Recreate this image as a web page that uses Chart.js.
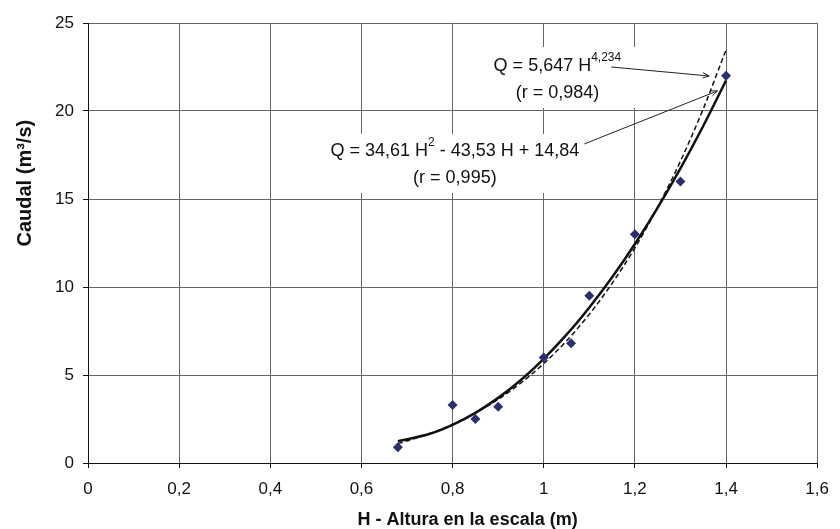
<!DOCTYPE html>
<html>
<head>
<meta charset="utf-8">
<script src="https://cdn.jsdelivr.net/npm/chart.js@4.4.1/dist/chart.umd.min.js"></script>
<style>
body{margin:0;background:#fff;}
#wrap{width:840px;height:529px;}
</style>
</head>
<body>
<div id="wrap"><canvas id="chart" width="840" height="529"></canvas></div>
<script>
// measured points
const obsH=[0.68,0.8,0.85,0.9,1.0,1.06,1.1,1.2,1.3,1.4];
const obsQ=[0.9,3.3,2.5,3.2,6.0,6.8,9.5,13.0,16.0,22.0];

// fitted curves
const curveH=[0.68,0.75,0.8,0.85,0.9,0.95,1.0,1.05,1.1,1.15,1.2,1.25,1.3,1.35,1.4];
const quadQ=[1.24,1.66,2.17,2.85,3.70,4.72,5.92,7.29,8.84,10.55,12.44,14.51,16.74,19.15,21.73];
const powQ=[1.10,1.67,2.20,2.84,3.62,4.55,5.65,6.94,8.45,10.21,12.22,14.53,17.15,20.12,23.47];

const xTicks=[0,0.2,0.4,0.6,0.8,1.0,1.2,1.4,1.6];
const yTicks=[0,5,10,15,20,25];

const xTitle='H - Altura en la escala (m)';
const yTitle='Caudal (m³/s)';

const FONT='"Liberation Sans", Arial, sans-serif';
const toPts=(xs,ys)=>xs.map((x,i)=>({x:x,y:ys[i]}));
const fmt=v=>String(Math.round(v*10)/10).replace('.',',');

// label boxes: [x, y] in data units
const labels=[
{
box:[0.881,23.64,1.210,20.17],
lines:[{y:22.56,parts:[['Q = 5,647 H',false],['4,234',true]]},{y:21.02,parts:[['(r = 0,984)',false]]}],
cx:1.03,
arrow:[1.148,22.5,1.363,21.99]
},
{
box:[0.513,18.69,1.10,15.34],
lines:[{y:17.73,parts:[['Q = 34,61 H',false],['2',true],[' - 43,53 H + 14,84',false]]},{y:16.19,parts:[['(r = 0,995)',false]]}],
cx:0.805,
arrow:[1.089,18.13,1.381,21.14]
}
];

const notes={
id:'notes',
beforeDatasetsDraw(chart){
const ctx=chart.ctx, xs=chart.scales.x, ys=chart.scales.y;
ctx.save();
labels.forEach(l=>{
const x0=xs.getPixelForValue(l.box[0]), y0=ys.getPixelForValue(l.box[1]);
const x1=xs.getPixelForValue(l.box[2]), y1=ys.getPixelForValue(l.box[3]);
ctx.fillStyle='#fff';
ctx.fillRect(x0,y0,x1-x0,y1-y0);
ctx.fillStyle='#111';
ctx.textBaseline='middle';
ctx.textAlign='left';
l.lines.forEach(ln=>{
let w=0;
ln.parts.forEach(p=>{
ctx.font=(p[1]?'12px ':'18px ')+FONT;
w+=ctx.measureText(p[0]).width;
});
let px=xs.getPixelForValue(l.cx)-w/2;
const py=ys.getPixelForValue(ln.y);
ln.parts.forEach(p=>{
ctx.font=(p[1]?'12px ':'18px ')+FONT;
ctx.fillText(p[0],px,p[1]?py-8:py);
px+=ctx.measureText(p[0]).width;
});
});
});
ctx.restore();
},
afterDatasetsDraw(chart){
const ctx=chart.ctx, xs=chart.scales.x, ys=chart.scales.y;
ctx.save();
ctx.strokeStyle='#222';
ctx.lineWidth=1;
labels.forEach(l=>{
const ax=xs.getPixelForValue(l.arrow[0]), ay=ys.getPixelForValue(l.arrow[1]);
const bx=xs.getPixelForValue(l.arrow[2]), by=ys.getPixelForValue(l.arrow[3]);
const a=Math.atan2(by-ay,bx-ax);
ctx.beginPath();
ctx.moveTo(ax,ay);
ctx.lineTo(bx,by);
ctx.moveTo(bx-7*Math.cos(a-0.4),by-7*Math.sin(a-0.4));
ctx.lineTo(bx,by);
ctx.lineTo(bx-7*Math.cos(a+0.4),by-7*Math.sin(a+0.4));
ctx.stroke();
});
ctx.restore();
},
afterDraw(chart){
// axis titles sit a little off centre in the original
const ctx=chart.ctx, xs=chart.scales.x, ys=chart.scales.y;
ctx.save();
ctx.fillStyle='#111';
ctx.textAlign='center';
ctx.textBaseline='middle';
ctx.font='bold 18px '+FONT;
ctx.fillText(xTitle,xs.getPixelForValue(0.833),chart.height-9);
ctx.translate(25,ys.getPixelForValue(15.9));
ctx.rotate(-Math.PI/2);
ctx.font='bold 20px '+FONT;
ctx.fillText(yTitle,0,0);
ctx.restore();
}
};

new Chart(document.getElementById('chart'),{
type:'scatter',
data:{
datasets:[
{
label:'Medidas',
data:toPts(obsH,obsQ),
pointStyle:'rectRot',
pointRadius:5,
backgroundColor:'#2b2f6e',
borderColor:'#2b2f6e',
borderWidth:0
},
{
label:'Potencial',
data:toPts(curveH,powQ),
showLine:true,
pointRadius:0,
borderColor:'#111',
borderWidth:1.5,
borderDash:[5,3],
cubicInterpolationMode:'monotone'
},
{
label:'Cuadratica',
data:toPts(curveH,quadQ),
showLine:true,
pointRadius:0,
borderColor:'#111',
borderWidth:2.5,
cubicInterpolationMode:'monotone'
}
]
},
options:{
responsive:false,
devicePixelRatio:1,
animation:false,
layout:{padding:{top:23,right:22,left:0,bottom:0}},
plugins:{legend:{display:false},tooltip:{enabled:false}},
scales:{
x:{
type:'linear',min:0,max:1.6,
afterBuildTicks:s=>{s.ticks=xTicks.map(v=>({value:v}));},
afterFit:s=>{s.height=66;},
ticks:{callback:fmt,color:'#111',font:{family:FONT,size:17},padding:11,maxRotation:0},
grid:{color:'#666',lineWidth:1,tickLength:5,tickColor:'#111'},
border:{color:'#111',width:1}
},
y:{
type:'linear',min:0,max:25,
afterBuildTicks:s=>{s.ticks=yTicks.map(v=>({value:v}));},
afterFit:s=>{s.width=88;},
ticks:{callback:fmt,color:'#111',font:{family:FONT,size:17},padding:9},
grid:{color:'#666',lineWidth:1,tickLength:5,tickColor:'#111'},
border:{color:'#111',width:1}
}
}
},
plugins:[notes]
});
</script>
</body>
</html>
